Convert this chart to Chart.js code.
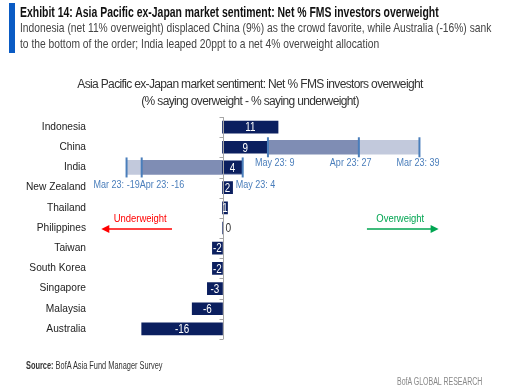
<!DOCTYPE html>
<html>
<head>
<meta charset="utf-8">
<script src="https://cdn.jsdelivr.net/npm/chart.js@4.4.0/dist/chart.umd.min.js"></script>
<style>
  body { margin: 0; background: #fff; }
  #wrap { position: relative; width: 515px; height: 388px; overflow: hidden; font-family: "Liberation Sans", Arial, sans-serif; }
  #chart { position: absolute; left: 0; top: 0; }
  .bar { position: absolute; left: 9px; top: 3px; width: 6px; height: 50px; background: #0a5bc4; }
  .nar { position: absolute; white-space: nowrap; transform-origin: 0 0; }
  .hd { left: 20px; top: 4px; font-weight: bold; font-size: 14px; color: #111; transform: scaleX(0.745); }
  .sub { left: 20px; font-size: 13px; color: #444; transform: scaleX(0.79); }
  .ctitle { position: absolute; left: 0; width: 500px; text-align: center; font-size: 12px; color: #333; white-space: nowrap; letter-spacing: -0.65px; }
  .src { left: 26px; top: 360px; font-size: 10px; color: #333; transform: scaleX(0.74); }
  .brand { left: 397px; top: 376px; font-size: 10px; color: #888; transform: scaleX(0.7); }
</style>
</head>
<body>
<div id="wrap">
  <canvas id="chart" width="515" height="388"></canvas>
  <div class="bar"></div>
  <div class="nar hd">Exhibit 14: Asia Pacific ex-Japan market sentiment: Net % FMS investors overweight</div>
  <div class="nar sub" style="top:20px">Indonesia (net 11% overweight) displaced China (9%) as the crowd favorite, while Australia (-16%) sank</div>
  <div class="nar sub" style="top:36px">to the bottom of the order; India leaped 20ppt to a net 4% overweight allocation</div>
  <div class="ctitle" style="top:77px">Asia Pacific ex-Japan market sentiment: Net % FMS investors overweight</div>
  <div class="ctitle" style="top:94px">(% saying overweight - % saying underweight)</div>
  <div class="nar src"><b>Source:</b> BofA Asia Fund Manager Survey</div>
  <div class="nar brand">BofA GLOBAL RESEARCH</div>
</div>
<script>
// market list, top to bottom
const markets = ['Indonesia', 'China', 'India', 'New Zealand', 'Thailand', 'Philippines',
                 'Taiwan', 'South Korea', 'Singapore', 'Malaysia', 'Australia'];
// net % overweight, May 23 survey
const may23 = [11, 9, 4, 2, 1, 0, -2, -2, -3, -6, -16];
// earlier surveys, only shown for China and India
const apr23 = [null, 27, -16, null, null, null, null, null, null, null, null];
const mar23 = [null, 39, -19, null, null, null, null, null, null, null, null];

const navy = '#0b1f5f';
const midBlue = '#7f8db4';
const lightBlue = '#c2c9dc';
const markBlue = '#4a7ebb';
const FONT = '"Liberation Sans", Arial, sans-serif';

// floating bars: may -> apr, apr -> mar
const aprRange = apr23.map((v, i) => v === null ? null : [may23[i], v]);
const marRange = mar23.map((v, i) => v === null ? null : [apr23[i], v]);

// left edge of each survey label, px from its marker, per row
const labelNudge = {
  1: { may: -13, apr: -29, mar: -23, dy: 16 },
  2: { may: -7, apr: -2, mar: -33, dy: 18 }
};

// squeezed text, the source uses a narrow face
function narrowText(ctx, text, x, y, sx, align) {
  const w = ctx.measureText(text).width * sx;
  let left = x;
  if (align === 'center') left = x - w / 2;
  ctx.save();
  ctx.translate(left, y);
  ctx.scale(sx, 1);
  ctx.textAlign = 'left';
  ctx.fillText(text, 0, 0);
  ctx.restore();
}

const zeroAxis = {
  id: 'zeroAxis',
  afterDatasetsDraw(chart) {
    const ctx = chart.ctx, x = chart.scales.x;
    const area = chart.chartArea;
    const x0 = Math.round(x.getPixelForValue(0)) + 0.5;
    ctx.save();
    ctx.strokeStyle = '#a6a6a6';
    ctx.lineWidth = 1;
    ctx.beginPath();
    ctx.moveTo(x0, area.top);
    ctx.lineTo(x0, area.bottom);
    const step = (area.bottom - area.top) / markets.length;
    for (let i = 0; i <= markets.length; i++) {
      const yy = Math.round(area.top + i * step) + 0.5;
      ctx.moveTo(x0 - 4, yy);
      ctx.lineTo(x0, yy);
    }
    ctx.stroke();
    ctx.restore();
  }
};

const valueLabels = {
  id: 'valueLabels',
  afterDatasetsDraw(chart) {
    const ctx = chart.ctx, x = chart.scales.x, y = chart.scales.y;
    const x0 = x.getPixelForValue(0);
    ctx.save();
    ctx.font = '12px ' + FONT;
    ctx.textBaseline = 'middle';
    may23.forEach((v, i) => {
      const yy = y.getPixelForValue(i) + 1;
      if (v === 0) {
        ctx.fillStyle = '#333';
        narrowText(ctx, '0', x0 + 3, yy, 0.85, 'left');
      } else {
        ctx.fillStyle = '#fff';
        narrowText(ctx, String(v), (x0 + x.getPixelForValue(v)) / 2, yy, 0.82, 'center');
      }
    });
    ctx.restore();
  }
};

const surveyMarks = {
  id: 'surveyMarks',
  afterDatasetsDraw(chart) {
    const ctx = chart.ctx, x = chart.scales.x, y = chart.scales.y;
    ctx.save();
    ctx.font = '11px ' + FONT;
    ctx.textBaseline = 'middle';
    markets.forEach((m, i) => {
      if (apr23[i] === null) return;
      const yy = y.getPixelForValue(i);
      const nudge = labelNudge[i];
      const pts = [['may', 'May 23', may23[i]], ['apr', 'Apr 23', apr23[i]], ['mar', 'Mar 23', mar23[i]]];
      pts.forEach(([k, name, v]) => {
        const px = x.getPixelForValue(v);
        ctx.strokeStyle = markBlue;
        ctx.lineWidth = 2;
        ctx.beginPath();
        ctx.moveTo(px, yy - 10);
        ctx.lineTo(px, yy + 10);
        ctx.stroke();
        ctx.fillStyle = markBlue;
        narrowText(ctx, name + ': ' + v, px + nudge[k], yy + nudge.dy, 0.82, 'left');
      });
    });
    ctx.restore();
  }
};

function arrow(ctx, xFrom, xTo, yy, color) {
  const dir = Math.sign(xTo - xFrom);
  ctx.strokeStyle = color;
  ctx.fillStyle = color;
  ctx.lineWidth = 1.5;
  ctx.beginPath();
  ctx.moveTo(xFrom, yy);
  ctx.lineTo(xTo - dir * 7, yy);
  ctx.stroke();
  ctx.beginPath();
  ctx.moveTo(xTo, yy);
  ctx.lineTo(xTo - dir * 8, yy - 4);
  ctx.lineTo(xTo - dir * 8, yy + 4);
  ctx.closePath();
  ctx.fill();
}

const sideArrows = {
  id: 'sideArrows',
  afterDatasetsDraw(chart) {
    const ctx = chart.ctx, x = chart.scales.x, y = chart.scales.y;
    const yy = y.getPixelForValue(5);
    ctx.save();
    ctx.font = '11px ' + FONT;
    ctx.textBaseline = 'middle';
    ctx.fillStyle = '#ff0000';
    narrowText(ctx, 'Underweight', x.getPixelForValue(-16.3), yy - 9, 0.86, 'center');
    arrow(ctx, x.getPixelForValue(-10), x.getPixelForValue(-24), yy + 1, '#ff0000');
    ctx.fillStyle = '#00a551';
    narrowText(ctx, 'Overweight', x.getPixelForValue(35.2), yy - 9, 0.86, 'center');
    arrow(ctx, x.getPixelForValue(28.6), x.getPixelForValue(42.8), yy + 1, '#00a551');
    ctx.restore();
  }
};

new Chart(document.getElementById('chart'), {
  type: 'bar',
  data: {
    labels: markets,
    datasets: [
      { label: 'May 23', data: may23, backgroundColor: navy, barThickness: 12, grouped: false, order: 0 },
      { label: 'Apr 23', data: aprRange, backgroundColor: midBlue, barThickness: 14, grouped: false, order: 1 },
      { label: 'Mar 23', data: marRange, backgroundColor: lightBlue, barThickness: 14, grouped: false, order: 2 }
    ]
  },
  options: {
    indexAxis: 'y',
    responsive: false,
    animation: false,
    layout: { padding: { top: 117, bottom: 49, left: 0, right: 90.5 } },
    plugins: { legend: { display: false }, tooltip: { enabled: false } },
    scales: {
      x: { type: 'linear', min: -20, max: 40, display: false },
      y: {
        grid: { display: false, drawTicks: false },
        border: { display: false },
        ticks: { color: '#222', padding: 35.5, font: { family: FONT, size: 10.2 } },
        afterFit(scale) { scale.width = 121.5; }
      }
    }
  },
  plugins: [zeroAxis, valueLabels, surveyMarks, sideArrows]
});
</script>
</body>
</html>
